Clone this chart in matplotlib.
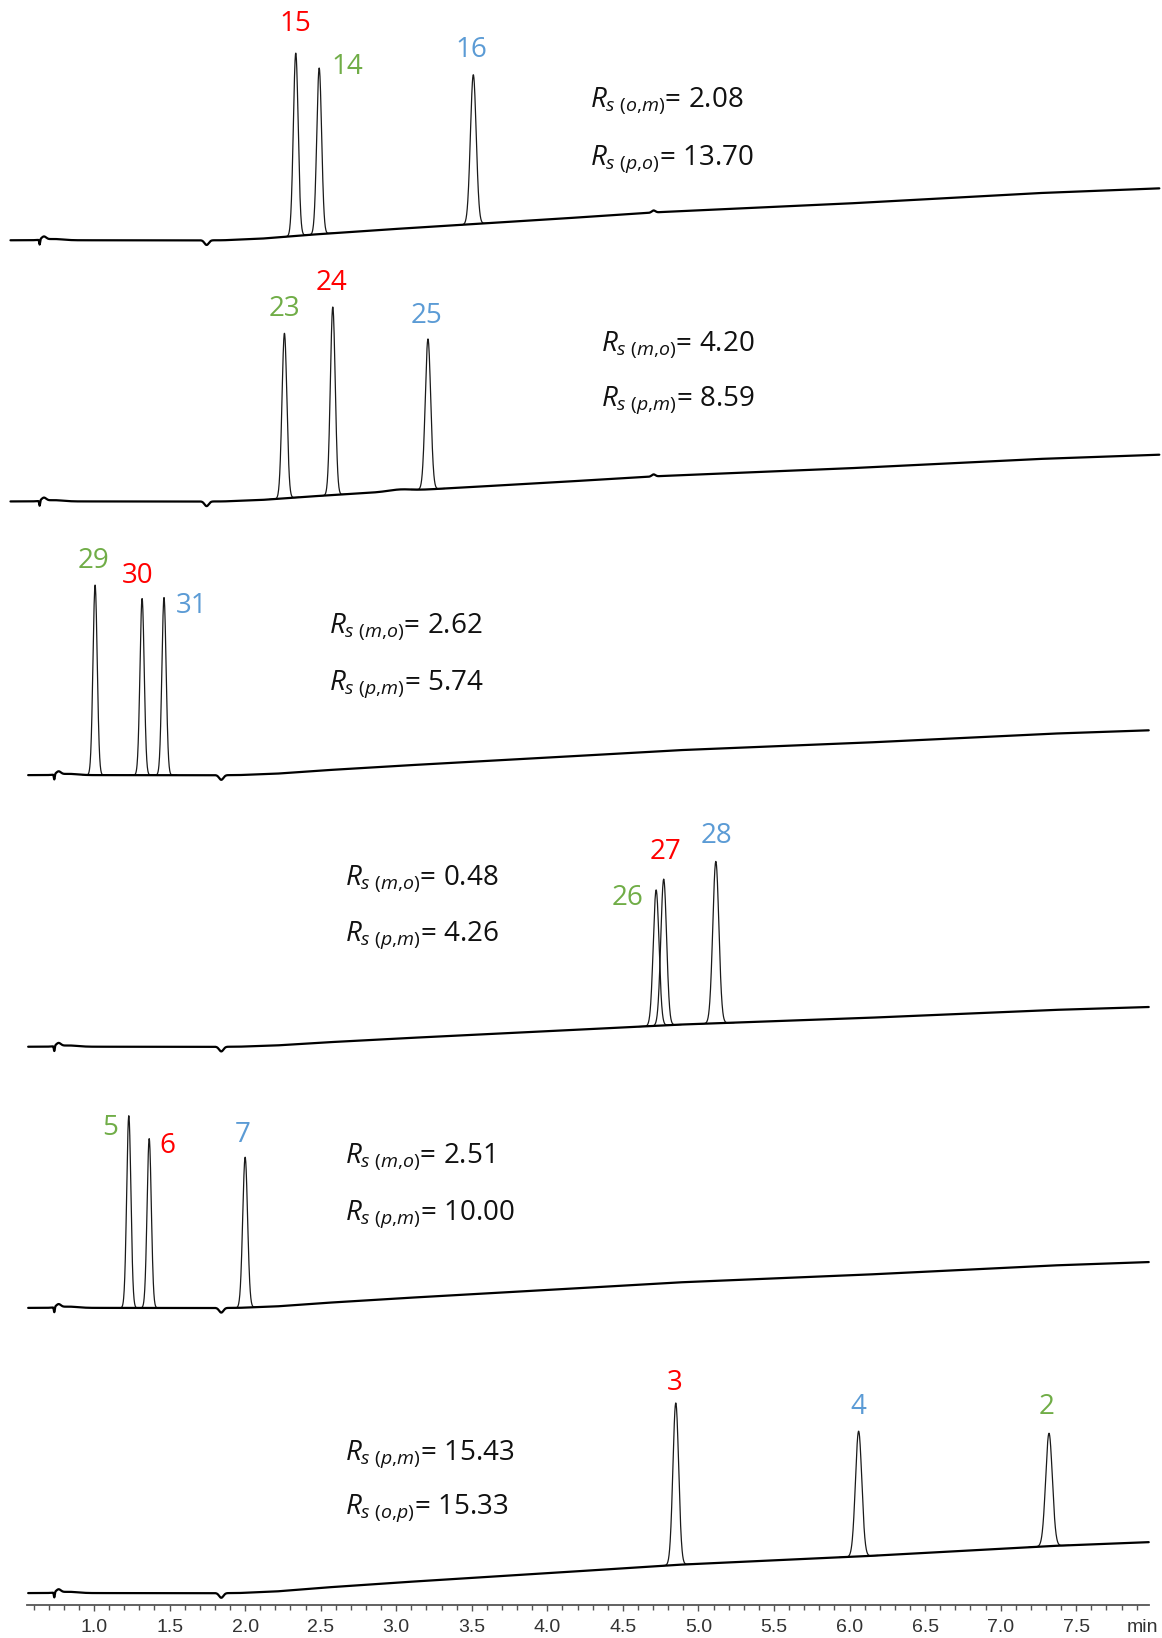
import numpy as np
import matplotlib
matplotlib.use("Agg")
import matplotlib.pyplot as plt
from matplotlib.ticker import FixedLocator, FormatStrFormatter

plt.rcParams["mathtext.fontset"] = "custom"
plt.rcParams["mathtext.rm"] = "Open Sans"
plt.rcParams["mathtext.it"] = "Open Sans:italic"

RED, GREEN, BLUE = "#FF0000", "#70AD47", "#5B9BD5"

# ---- chromatogram data (time in min, signal in detector units) ----
# Panel 1: compounds 15, 14, 16
P1_RT = [2.335, 2.49, 3.51]
P1_H = [175, 159, 143]
P1_SIG = [0.016, 0.016, 0.019]
P1_LAB = ["15", "14", "16"]
P1_COL = [RED, GREEN, BLUE]

# Panel 2: compounds 23, 24, 25
P2_RT = [2.26, 2.58, 3.21]
P2_H = [158, 180, 144]
P2_SIG = [0.016, 0.016, 0.018]
P2_LAB = ["23", "24", "25"]
P2_COL = [GREEN, RED, BLUE]

# Panel 3: compounds 29, 30, 31
P3_RT = [1.007, 1.318, 1.463]
P3_H = [182, 169, 170]
P3_SIG = [0.014, 0.014, 0.014]
P3_LAB = ["29", "30", "31"]
P3_COL = [GREEN, RED, BLUE]

# Panel 4: compounds 26, 27, 28
P4_RT = [4.72, 4.77, 5.115]
P4_H = [130, 140, 155]
P4_SIG = [0.019, 0.019, 0.020]
P4_LAB = ["26", "27", "28"]
P4_COL = [GREEN, RED, BLUE]

# Panel 5: compounds 5, 6, 7
P5_RT = [1.23, 1.365, 2.0]
P5_H = [184, 162, 144]
P5_SIG = [0.014, 0.014, 0.016]
P5_LAB = ["5", "6", "7"]
P5_COL = [GREEN, RED, BLUE]

# Panel 6: compounds 3, 4, 2
P6_RT = [4.85, 6.06, 7.32]
P6_H = [155, 120, 108]
P6_SIG = [0.019, 0.021, 0.022]
P6_LAB = ["3", "4", "2"]
P6_COL = [RED, BLUE, GREEN]

# Resolution values shown beside each chromatogram
RS_PAIRS = [["(o{,}m)", "(p{,}o)"], ["(m{,}o)", "(p{,}m)"], ["(m{,}o)", "(p{,}m)"],
            ["(m{,}o)", "(p{,}m)"], ["(m{,}o)", "(p{,}m)"], ["(p{,}m)", "(o{,}p)"]]
RS_VALUES = [["2.08", "13.70"], ["4.20", "8.59"], ["2.62", "5.74"],
             ["0.48", "4.26"], ["2.51", "10.00"], ["15.43", "15.33"]]

# Gradient baseline drift: common shape (fraction of total rise) and per-run totals
RAMP_T = [0.0, 1.95, 2.2, 2.5, 3.0, 4.0, 4.85, 6.06, 7.32, 8.2]
RAMP_F = [0.0, 0.0, 0.03, 0.10, 0.20, 0.38, 0.54, 0.70, 0.90, 1.0]
DRIFT_TOTAL = [50, 45, 44, 39, 45, 50]
TIME_SHIFT = [-0.097, -0.097, 0.0, 0.0, 0.0, 0.0]
RUN_START = [0.447, 0.447, 0.564, 0.564, 0.564, 0.564]
RUN_END = [8.05, 8.05, 7.98, 7.98, 7.98, 7.98]

# Axis ticks
MAJOR_TICKS = [1.0, 1.5, 2.0, 2.5, 3.0, 3.5, 4.0, 4.5, 5.0, 5.5, 6.0, 6.5, 7.0, 7.5]

PANELS = [
    (P1_RT, P1_H, P1_SIG, P1_LAB, P1_COL),
    (P2_RT, P2_H, P2_SIG, P2_LAB, P2_COL),
    (P3_RT, P3_H, P3_SIG, P3_LAB, P3_COL),
    (P4_RT, P4_H, P4_SIG, P4_LAB, P4_COL),
    (P5_RT, P5_H, P5_SIG, P5_LAB, P5_COL),
    (P6_RT, P6_H, P6_SIG, P6_LAB, P6_COL),
]

# ---- layout ----
REF_H = 1568.0
BASE_ROW = [230, 480, 742, 1002, 1252, 1525]    # vertical place of each run
Y_LO, Y_HI = -11, 228
X_LIM = (0.3776, 8.0678)
LABEL_OFFSETS = [
    [(0, 28), (27, 1), (-2, 24)],
    [(0, 23), (-1, 23), (-1, 22)],
    [(-2, 23), (-4, 22), (26, -8)],
    [(-27, -8), (2, 26), (1, 24)],
    [(-18, -12), (17, -7), (-2, 21)],
    [(-1, 19), (0, 23), (-2, 25)],
]
RS_POS = [(4.285, 133, 78), (4.354, 150, 97), (2.556, 142, 87),
          (2.66, 160, 107), (2.66, 144, 90), (2.66, 133, 81)]
PX2PT = 1162 / 1112 * 0.72


def gauss(t, c, s):
    return np.exp(-0.5 * ((t - c) / s) ** 2)


def baseline(t, i):
    ts = t - TIME_SHIFT[i]
    y = DRIFT_TOTAL[i] * np.interp(ts, RAMP_T, RAMP_F)
    # injection disturbance
    y += -5.0 * gauss(ts, 0.737, 0.003) + 3.0 * gauss(ts, 0.765, 0.015)
    y += 1.2 * gauss(ts, 0.83, 0.06)
    # void-volume dip
    y += -4.5 * gauss(ts, 1.842, 0.014)
    if i in (0, 1):
        y += 2.0 * gauss(ts, 4.80, 0.012)
    if i == 1:
        y += 1.5 * gauss(ts, 3.12, 0.07)
    return y


fig = plt.figure(figsize=(11.62, 16.38), dpi=100)

for i, (rts, hs, sigs, labs, cols) in enumerate(PANELS):
    b = BASE_ROW[i]
    rect = [0.0, 1 - (b - Y_LO) / REF_H, 1.0, (Y_HI - Y_LO) / REF_H]
    ax = fig.add_axes(rect)
    ax.set_xlim(*X_LIM)
    ax.set_ylim(Y_LO, Y_HI)

    t = np.linspace(RUN_START[i], RUN_END[i], 6000)
    base = baseline(t, i)
    ax.plot(t, base, color="black", lw=1.6, solid_capstyle="round", zorder=3)

    for k, (rt, h, s) in enumerate(zip(rts, hs, sigs)):
        m = np.abs(t - rt) < 6 * s
        y = base[m] + h * gauss(t[m], rt, s)
        ax.plot(t[m], y, color="#1a1a1a", lw=0.9, zorder=2)
        apex = float(baseline(np.array([rt]), i)[0]) + h
        dx, dy = LABEL_OFFSETS[i][k]
        ax.annotate(labs[k], xy=(rt, apex), xytext=(dx * PX2PT, dy * PX2PT),
                    textcoords="offset points", ha="center", va="center",
                    color=cols[k], fontsize=20, family="Open Sans",
                    annotation_clip=False)

    xr, y1, y2 = RS_POS[i]
    for pair, val, yy in zip(RS_PAIRS[i], RS_VALUES[i], (y1, y2)):
        ax.text(xr, yy, r"$\mathit{R}_{\mathit{s\ %s}}$= %s" % (pair, val),
                ha="left", va="center", fontsize=20, family="Open Sans",
                color="#111111", clip_on=False)

    if i < len(PANELS) - 1:
        ax.axis("off")
    else:
        for side in ("top", "left", "right"):
            ax.spines[side].set_visible(False)
        ax.patch.set_visible(False)
        sp = ax.spines["bottom"]
        sp.set_bounds(0.557, 7.98)
        sp.set_color("#555555")
        sp.set_linewidth(1.3)
        ax.set_yticks([])
        ax.xaxis.set_major_locator(FixedLocator(MAJOR_TICKS))
        ax.xaxis.set_major_formatter(FormatStrFormatter("%.1f"))
        minors = [round(v, 1) for v in np.arange(0.6, 7.95, 0.1)]
        minors = [v for v in minors if v not in MAJOR_TICKS]
        ax.xaxis.set_minor_locator(FixedLocator(minors))
        ax.tick_params(axis="x", which="major", direction="out", length=4.5,
                       width=1.0, color="#555555", pad=6, labelsize=14,
                       labelcolor="#333333")
        ax.tick_params(axis="x", which="minor", direction="out", length=3.5,
                       width=1.0, color="#555555")
        for lab in ax.get_xticklabels():
            lab.set_family("Liberation Sans")
        ax.annotate("min", xy=(7.94, 0), xycoords=("data", "axes fraction"),
                    xytext=(0, -10.5), textcoords="offset points",
                    ha="center", va="top", fontsize=14, color="#333333",
                    family="Liberation Sans", annotation_clip=False)

fig.savefig("out.png", dpi=100)
